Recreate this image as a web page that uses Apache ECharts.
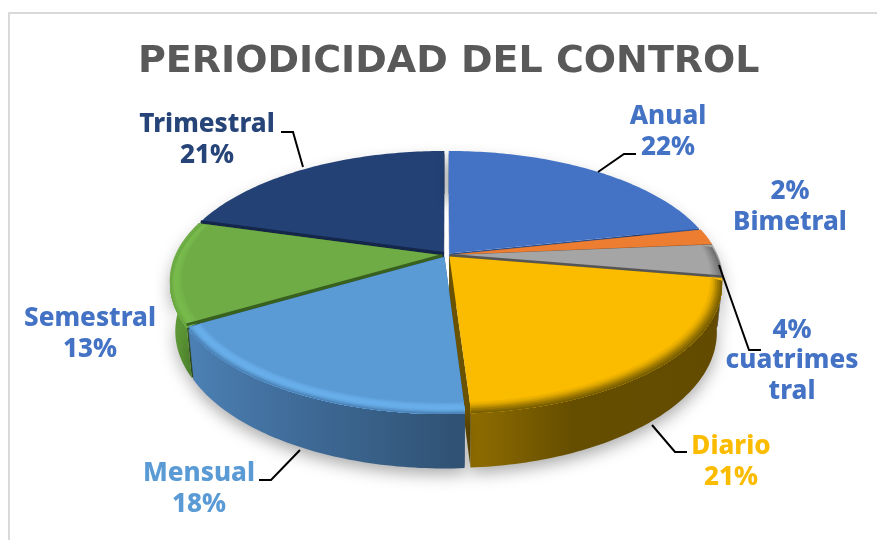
<!DOCTYPE html>
<html><head><meta charset="utf-8">
<style>html,body{margin:0;padding:0;background:#fff}#c{width:877px;height:540px}</style>
<script src="https://cdn.jsdelivr.net/npm/echarts@6/dist/echarts.min.js"></script>
</head><body><div id="c"></div>
<script>
const chartTitle = 'PERIODICIDAD DEL CONTROL';
const categories = ['Anual','Bimetral','cuatrimes\ntral','Diario','Mensual','Semestral','Trimestral'];
const values = [21.6, 2.0, 4.1, 21.3, 17.5, 12.9, 20.6];
const topColors = ['#4472c4','#ed7d31','#a5a5a5','#fbbc00','#5b9bd5','#6fac46','#234175'];
const labelColors = ['#4472c4','#4472c4','#4472c4','#fbbc00','#5b9bd5','#4472c4','#264478'];
const percentFirst = [false,true,true,false,false,false,false];
const labelPos = [[668,132],[790,207],[792,361],[731,462],[199,489],[90,334],[207,140]];
const leaders = [
  [[598,172],[624,154],[636,154]], null,
  [[719,265],[749,350],[761,350]],
  [[652,425],[675,452],[687,452]],
  [[300,450],[271,480],[259,480]], null,
  [[303,167],[293,132],[281,132]]
];
const drawOrder = [6,0,1,2,5,3,4];
const rimColors = [
  null, null,
  ['#a5a5a5','#8c8c8c','#6f6f6f'],
  ['#fbbc00','#e0a800','#a88000','#7a6000'],
  ['#5b9bd5','#68aeea','#68aeea','#4d85ba'],
  ['#6fac46','#76b64b','#7abc4e','#6aa842'],
  null
];
const wallColors = [
  ['#34589a','#34589a','#34589a'],['#a8551f','#a8551f','#a8551f'],['#6e6e6e','#7a7a7a','#8a8a8a'],
  ['#8f6d00','#664e00','#624a00'],['#4c80b4','#3f6b98','#2f5172'],['#5f9a38','#5a9434','#55902f'],['#1a3158','#1a3158','#1a3158']
];
const radialColors = ['#2d4f8c','#a8551f','#5c5c5c','#6b5200','#2f5172','#38601f','#14274a'];
const seams = [[2,1,'#555555',2],[5,0,'#38601f',2.5],[6,0,'#14274a',3]];

const cx=446.5, cy=255, RX=267, RY=123, K=0.195, DEP=49, EXPL=0.016, RIN=0.95, BEV=3, TAPER=0.02, STEPS=8;
const total = values.reduce((a,b)=>a+b,0);
function proj(t,r,h,mid){
  const px=r*Math.sin(t)+EXPL*Math.sin(mid), py=r*Math.cos(t)+EXPL*Math.cos(mid);
  const s=1/(1+K*py), q=1-TAPER*h/DEP;
  return [cx+RX*px*s*q, cy-RY*py*s*q+h*s];
}
function arc(a,b,r,h,mid){
  const n=Math.max(2,Math.ceil((b-a)/(Math.PI/180))), out=[];
  for(let i=0;i<=n;i++) out.push(proj(a+(b-a)*i/n,r,h,mid));
  return out;
}
function poly(points,fill,z2,extra){
  return {type:'polygon',shape:{points},z2,silent:true,style:Object.assign({fill},extra||{})};
}
function angles(i,val){
  let acc=0; for(let j=0;j<i;j++) acc+=values[j];
  const a=acc/total*2*Math.PI, b=(acc+val)/total*2*Math.PI;
  return [a,b,(a+b)/2];
}
function renderSlice(params,api){
  const i=params.dataIndex, val=api.value(0);
  const [a,b,mid]=angles(i,val);
  const z=drawOrder.indexOf(i)*40, ch=[];
  const wall=arc(a,b,1,BEV,mid).concat(arc(a,b,1,DEP,mid).reverse());
  const shade={shadowBlur:16,shadowColor:'rgba(0,0,0,0.33)',shadowOffsetY:6};
  [a,b].forEach(t=>{
    ch.push(poly([proj(t,0,0,mid),proj(t,1,0,mid),proj(t,1,DEP,mid),proj(t,0,DEP,mid)],radialColors[i],z+1));
  });
  const ws=wallColors[i];
  ch.push(poly(wall,{type:'linear',x:0,y:0,x2:1,y2:0,colorStops:[
    {offset:0,color:ws[0]},{offset:0.4,color:ws[1]},{offset:1,color:ws[2]}]},z+2,shade));
  ch.push(poly([proj(a,0,0,mid)].concat(arc(a,b,1,0,mid)),topColors[i],z+3));
  if(rimColors[i]){
    const cs=rimColors[i];
    for(let k=0;k<STEPS;k++){
      const f=k/(STEPS-1);
      const c=echarts.color.lerp(f,cs);
      const r0=RIN+(1-RIN)*k/STEPS, h0=BEV*k/STEPS;
      ch.push(poly(arc(a,b,r0,h0,mid).concat(arc(a,b,1,BEV,mid).reverse()),c,z+4+k));
    }
  }
  seams.filter(s=>s[0]===i).forEach(s=>{
    const t=s[1]===0?a:b;
    ch.push({type:'polyline',silent:true,z2:z+30,shape:{points:[proj(t,0,0,mid),proj(t,1,0,mid)]},
      style:{stroke:s[2],lineWidth:s[3],fill:'none'}});
  });
  return {type:'group',children:ch};
}

const graphics=[
  {type:'line',shape:{x1:8,y1:13,x2:877,y2:13},style:{stroke:'#d9d9d9',lineWidth:2},silent:true},
  {type:'line',shape:{x1:9,y1:13,x2:9,y2:540},style:{stroke:'#d9d9d9',lineWidth:2},silent:true}
];
categories.forEach((name,i)=>{
  const pct=Math.round(values[i])+'%';
  graphics.push({type:'text',x:labelPos[i][0],y:labelPos[i][1],z:10,silent:true,style:{
    text:percentFirst[i]?pct+'\n'+name:name+'\n'+pct,
    fill:labelColors[i],font:'800 26px "Noto Sans"',lineHeight:30.5,
    align:'center',verticalAlign:'middle'}});
  if(leaders[i]) graphics.push({type:'polyline',z:10,silent:true,shape:{points:leaders[i]},
    style:{stroke:'#000',lineWidth:2,fill:'none'}});
});

const chart=echarts.init(document.getElementById('c'),null,{renderer:'canvas'});
chart.setOption({
  animation:false,
  backgroundColor:'#fff',
  title:{text:chartTitle,left:133,top:38,
    textStyle:{color:'#595959',fontFamily:'"DejaVu Sans"',fontWeight:'bold',fontSize:38}},
  series:[{type:'custom',coordinateSystem:'none',data:values.map(v=>[v]),renderItem:renderSlice,clip:false}],
  graphic:graphics
});
</script></body></html>
